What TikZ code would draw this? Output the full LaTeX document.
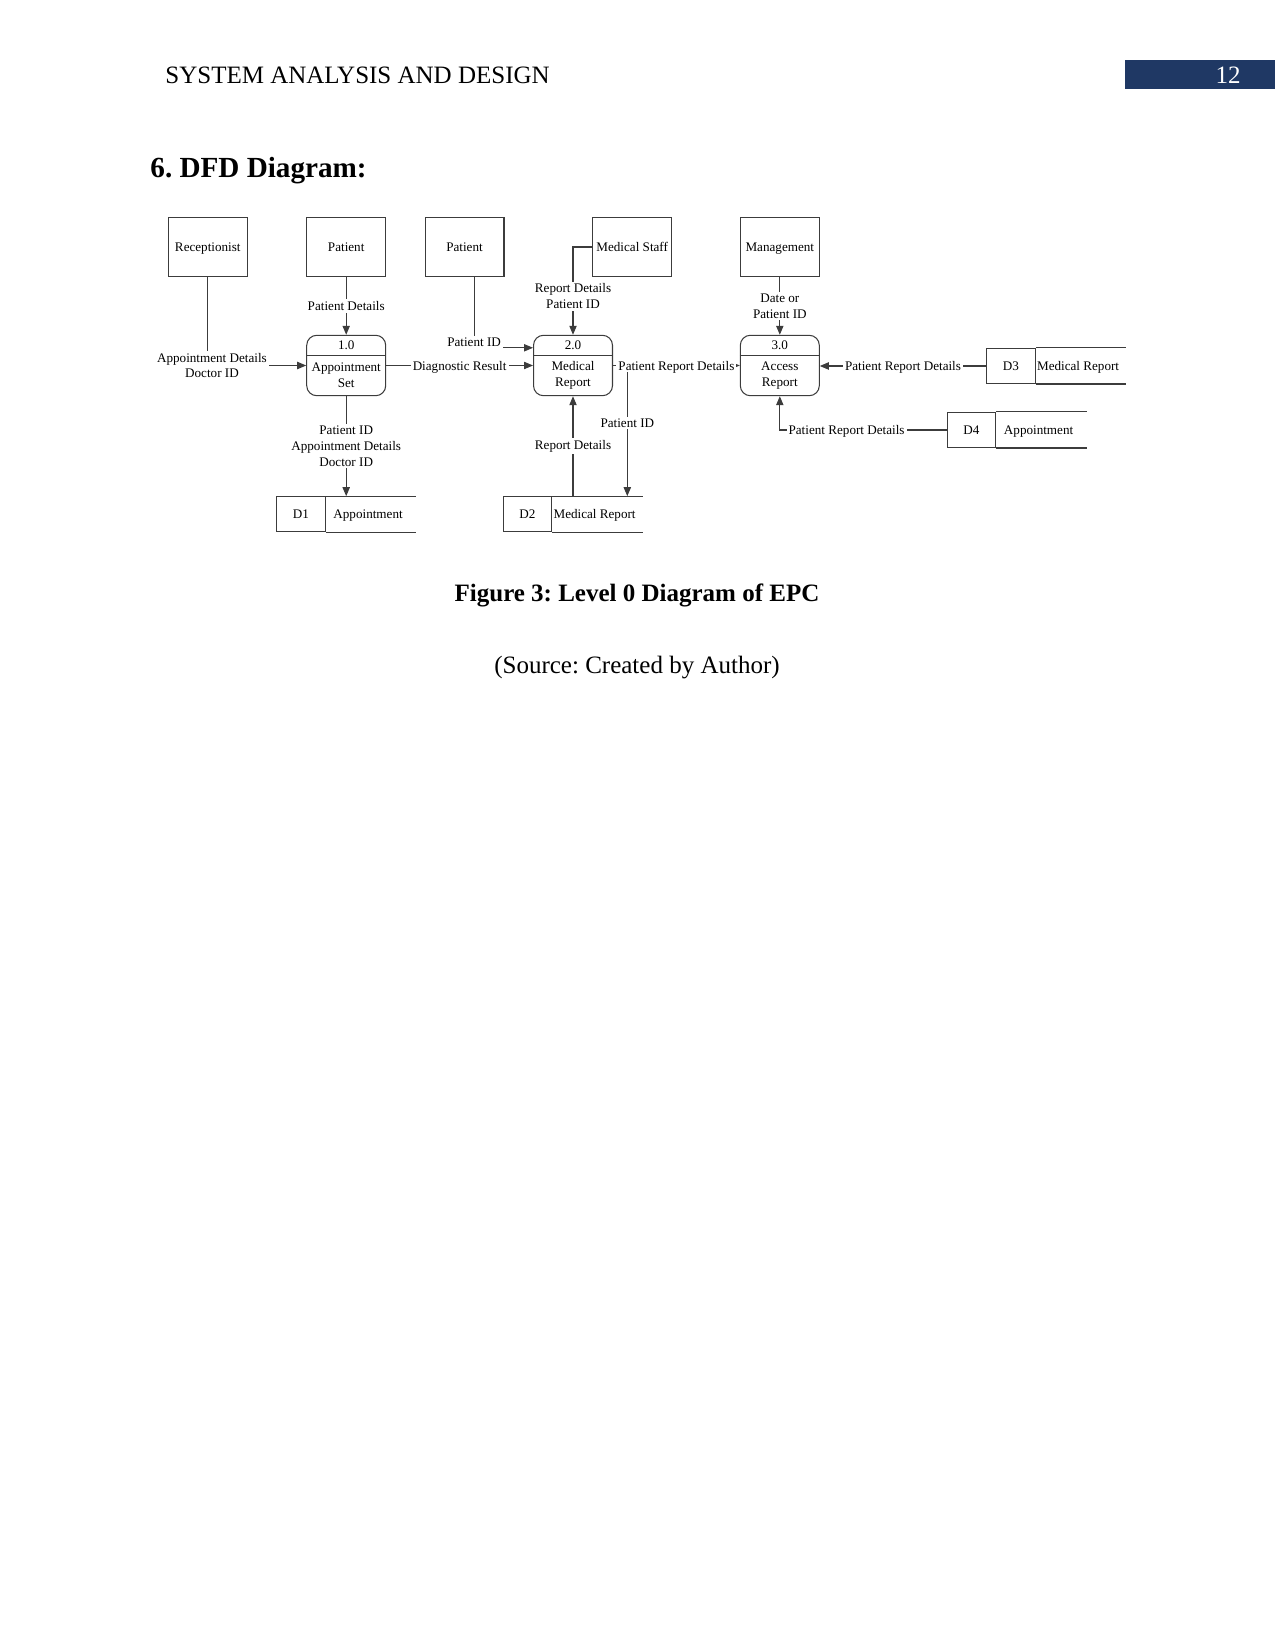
\documentclass[tikz,border=0pt]{standalone}
\usepackage{fontspec}
\setmainfont{Liberation Serif}
\usepackage{tikz}
\usetikzlibrary{arrows.meta,positioning}
\definecolor{hdrblue}{RGB}{31,56,100}
\definecolor{dfdgray}{RGB}{60,60,60}
\newcommand{\dfdfont}{\fontsize{6.3}{7.5}\selectfont}
\frenchspacing

\begin{document}
\begin{tikzpicture}[
  x=0.48pt, y=-0.48pt,
  ent/.style={draw=dfdgray, line width=0.5pt, minimum width=37.9pt, minimum height=28.5pt, inner sep=1pt, text height=4.5pt, text depth=0pt, font=\dfdfont},
  proc/.style={draw=dfdgray, line width=0.5pt, rounded corners=4.8pt, minimum width=37.9pt, minimum height=29pt},
  sid/.style={draw=dfdgray, line width=0.5pt, minimum width=23.3pt, minimum height=16.8pt, font=\dfdfont},
  txt/.style={font=\dfdfont, align=center, inner sep=1pt},
  one/.style={text height=4.5pt, text depth=0pt},
  lbl/.style={font=\dfdfont, align=center, fill=white, inner sep=1pt},
  wire/.style={draw=dfdgray, line width=0.5pt},
  flow/.style={draw=dfdgray, line width=0.5pt, -{Triangle[length=4.3pt,width=3.5pt]}}
]
  \useasboundingbox (0,0) rectangle (1275,1650);

  % --- page header ---
  \fill[hdrblue] (1125,60) rectangle (1275,89);
  \node[font=\fontsize{12}{14}\selectfont, text=white] (pgno) at (1228,75.5) {12};
  \node[font=\fontsize{12}{14}\selectfont, anchor=west, inner sep=0] (hdr) at (165,75.5) {SYSTEM ANALYSIS AND DESIGN};
  \node[font=\fontsize{14}{17}\selectfont\bfseries, anchor=base west, inner sep=0] (ttl) at (150,178) {6. DFD Diagram:};

  % --- external entities ---
  \node[ent] (rec) at (207.8,247) {Receptionist};
  \node[ent] (pat1) at (346.2,247) {Patient};
  \node[ent] (pat2) at (464.5,247) {Patient};
  \node[ent] (staff) at (632.2,247) {Medical Staff};
  \node[ent] (mgmt) at (779.8,247) {Management};

  % --- processes ---
  \node[proc] (p1) at (346.2,365.5) {};
  \draw[wire] ([yshift=4.7pt]p1.west) -- ([yshift=4.7pt]p1.east);
  \node[txt] (p1n) at ([yshift=-5.1pt]p1.north) {1.0};
  \node[txt] (p1t) at ([yshift=-4.8pt]p1.center) {Appointment\\Set};

  \node[proc] (p2) at (573,365.5) {};
  \draw[wire] ([yshift=4.7pt]p2.west) -- ([yshift=4.7pt]p2.east);
  \node[txt] (p2n) at ([yshift=-5.1pt]p2.north) {2.0};
  \node[txt] (p2t) at ([yshift=-4.8pt]p2.center) {Medical\\Report};

  \node[proc] (p3) at (779.8,365.5) {};
  \draw[wire] ([yshift=4.7pt]p3.west) -- ([yshift=4.7pt]p3.east);
  \node[txt] (p3n) at ([yshift=-5.1pt]p3.north) {3.0};
  \node[txt] (p3t) at ([yshift=-4.8pt]p3.center) {Access\\Report};

  % --- data stores ---
  \node[sid] (d1) at (301,514.2) {D1};
  \draw[wire] (d1.north east) -- ++(90.5,0) (d1.south east) -- ++(90.5,0);
  \node[txt, one] (d1t) at ([xshift=20.3pt]d1.east) {Appointment};

  \node[sid] (d2) at (527.5,514.2) {D2};
  \draw[wire] (d2.north east) -- ++(90.5,0) (d2.south east) -- ++(90.5,0);
  \node[txt, one] (d2t) at ([xshift=20.3pt]d2.east) {Medical Report};

  \node[sid] (d3) at (1011,366) {D3};
  \draw[wire] (d3.north east) -- ++(90.5,0) (d3.south east) -- ++(90.5,0);
  \node[txt, one] (d3t) at ([xshift=20.3pt]d3.east) {Medical Report};

  \node[sid] (d4) at (971.5,430) {D4};
  \draw[wire] (d4.north east) -- ++(90.5,0) (d4.south east) -- ++(90.5,0);
  \node[txt, one] (d4t) at ([xshift=20.3pt]d4.east) {Appointment};

  % --- data flows ---
  \draw[flow] (rec) |- node[lbl, pos=0.5, xshift=2pt] (f1) {Appointment Details\\Doctor ID} (p1);
  \draw[flow] (pat1) -- node[lbl] (f2) {Patient Details} (p1);
  \draw[flow] ([xshift=4.6pt]pat2.south) |- node[lbl, yshift=2.5pt] (f3) {Patient ID} ([yshift=8.5pt]p2.west);
  \draw[flow] (p1) -- node[lbl, one] (f4) {Diagnostic Result} (p2);
  \draw[flow] (staff) -| node[lbl, pos=0.78] (f5) {Report Details\\Patient ID} (p2);
  \draw[flow] (p1) -- node[lbl] (f6) {Patient ID\\Appointment Details\\Doctor ID} (p1.south |- d1.north);
  \draw[flow] (d2.north -| p2.south) -- node[lbl] (f7) {Report Details} (p2);
  \draw[flow] (p2.east) -| node[lbl, pos=0.72] (f8) {Patient ID} ([xshift=36pt]d2.north east);
  \draw[flow] (p2) -- node[lbl, one] (f9) {Patient Report Details} (p3);
  \draw[flow] (mgmt) -- node[lbl] (f10) {Date or\\Patient ID} (p3);
  \draw[flow] (d3.west) -- node[lbl, one] (f11) {Patient Report Details} (d3.west -| p3.east);
  \draw[flow] (d4) -| node[lbl, one, pos=0.3] (f12) {Patient Report Details} (p3);

  % --- caption ---
  \node[font=\fontsize{12}{14}\selectfont\bfseries, anchor=base, inner sep=0] (cap) at (637,601) {Figure 3: Level 0 Diagram of EPC};
  \node[font=\fontsize{12}{14}\selectfont, anchor=base, inner sep=0] (src) at (637,673.5) {(Source: Created by Author)};
\end{tikzpicture}
\end{document}
